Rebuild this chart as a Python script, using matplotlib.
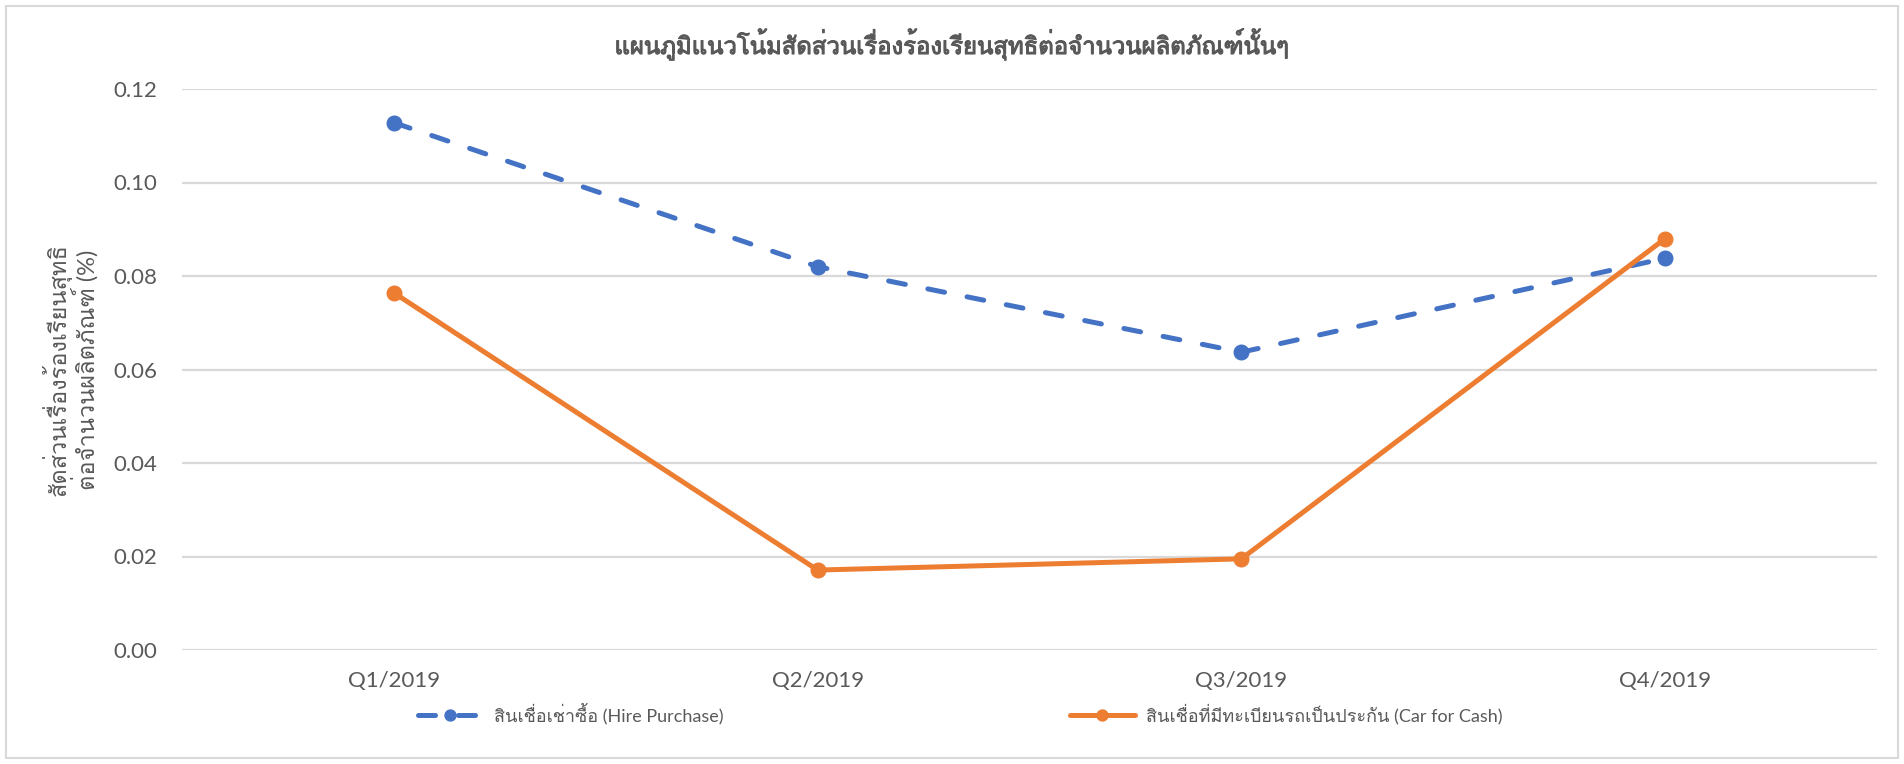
import matplotlib
matplotlib.use("Agg")
import matplotlib.pyplot as plt
import matplotlib.patheffects as pe
from matplotlib.patches import Rectangle

# --- ข้อมูล ---
quarters = ["Q1/2019", "Q2/2019", "Q3/2019", "Q4/2019"]
hire_purchase = [0.1128, 0.0820, 0.0637, 0.0838]
car_for_cash = [0.0764, 0.0171, 0.0195, 0.0880]
yticks = [0.00, 0.02, 0.04, 0.06, 0.08, 0.10, 0.12]

title = "แผนภูมิแนวโน้มสัดส่วนเรื่องร้องเรียนสุทธิต่อจำนวนผลิตภัณฑ์นั้นๆ"
ylabel = "สัดส่วนเรื่องร้องเรียนสุทธิ\nต่อจำนวนผลิตภัณฑ์ (%)"
label_hp = "สินเชื่อเช่าซื้อ (Hire Purchase)"
label_cc = "สินเชื่อที่มีทะเบียนรถเป็นประกัน (Car for Cash)"

# --- สี / ฟอนต์ ---
blue = "#4472C4"
orange = "#ED7D31"
grey_txt = "#595959"
grid_c = "#D9D9D9"
# Loma วางวรรณยุกต์ซ้อนสระบนได้ถูกต้อง (ไม่มี text shaping ใน matplotlib)
plt.rcParams["font.family"] = ["Lato", "Loma"]

fig = plt.figure(figsize=(19.04, 7.64), dpi=100)
W, H = 1904, 764
ax = fig.add_axes([182 / W, 1 - 650 / H, (1877 - 182) / W, (650 - 89) / H])

x = list(range(len(quarters)))
ax.plot(x, hire_purchase, color=blue, linewidth=3.6, linestyle=(0, (3.4, 4.6)),
        dash_capstyle="round", marker="o", markersize=10.5, label=label_hp)
ax.plot(x, car_for_cash, color=orange, linewidth=3.6, solid_capstyle="round",
        marker="o", markersize=10.5, label=label_cc)

ax.set_xlim(-0.5, len(quarters) - 0.5)
ax.set_ylim(0, 0.12)
ax.set_yticks(yticks)
ax.set_yticklabels([f"{v:.2f}" for v in yticks])
ax.set_xticks(x)
ax.set_xticklabels(quarters)
ax.tick_params(axis="both", length=0, labelsize=16, labelcolor=grey_txt)
ax.tick_params(axis="y", pad=18)
ax.tick_params(axis="x", pad=15)
ax.grid(axis="y", color=grid_c, linewidth=1.6)
ax.set_axisbelow(True)
for s in ax.spines.values():
    s.set_visible(False)

ax.set_ylabel(ylabel, fontsize=17, color=grey_txt, linespacing=0.95, va="center")
ax.yaxis.set_label_coords((70 - 182) / 1695, 0.5)

fig.text(0.5, 1 - 44 / H, title, ha="center", va="center", fontsize=17.2,
         color=grey_txt,
         path_effects=[pe.withStroke(linewidth=0.8, foreground=grey_txt)])

fig.legend(loc="center", bbox_to_anchor=(960 / W, 1 - 714 / H), ncol=2,
           frameon=False, fontsize=13, labelcolor=grey_txt, handlelength=3.6,
           handletextpad=0.6, columnspacing=19.2, markerscale=0.75)

# กรอบรอบแผนภูมิ
fig.add_artist(Rectangle((6 / W, 6 / H), 1 - 12 / W, 1 - 12 / H,
                         transform=fig.transFigure, fill=False,
                         edgecolor=grid_c, linewidth=1.5))

fig.savefig("out.png", dpi=100)
